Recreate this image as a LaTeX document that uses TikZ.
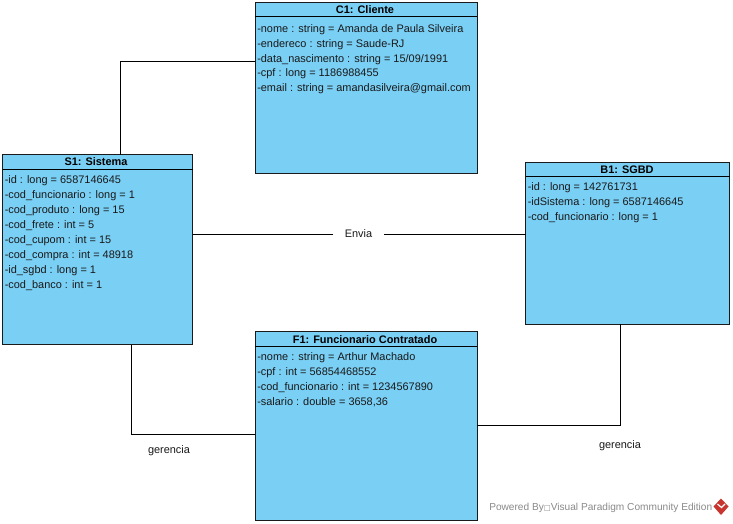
\documentclass[tikz,border=0pt]{standalone}
\usepackage{fontspec}
\setmainfont{Liberation Sans}
\newfontfamily\symfont{DejaVu Sans}
\usetikzlibrary{positioning,calc}
\definecolor{boxblue}{HTML}{7ACFF5}
\definecolor{linedark}{HTML}{1A1A1A}
\definecolor{markgray}{HTML}{8A8A8A}
\definecolor{logored}{HTML}{C8342E}
\tikzset{
  objbox/.style={draw=linedark,fill=boxblue,line width=0.75pt,inner sep=0pt,outer sep=0pt,anchor=north west},
  headtext/.style={font=\fontsize{8.2}{10}\selectfont\bfseries,inner sep=0pt,text=black},
  attrs/.style={font=\fontsize{8.2}{11.2}\selectfont,inner sep=0pt,anchor=north west,align=left,text=black!90},
  conn/.style={draw=black,line width=0.75pt},
  lbl/.style={font=\fontsize{8.2}{10}\selectfont,inner sep=0pt,text=black!90},
  gaplbl/.style={lbl,fill=white,inner xsep=8.5pt,inner ysep=3pt}
}
\begin{document}
\begin{tikzpicture}[x=0.75pt,y=-0.75pt]
\useasboundingbox (0,0) rectangle (733,524);
\fill[white] (0,0) rectangle (733,524);
% boxes
\node[objbox,minimum width=166.5pt,minimum height=128.25pt] (c1) at (255,2.5) {};
\node[objbox,minimum width=142.5pt,minimum height=142.25pt] (s1) at (2.5,155) {};
\node[objbox,minimum width=153pt,minimum height=121.5pt] (b1) at (525.5,162.5) {};
\node[objbox,minimum width=166.5pt,minimum height=141pt] (f1) at (255,332) {};
% header rules
\coordinate (ch) at (0,17);
\coordinate (sh) at (0,169.5);
\coordinate (bh) at (0,177);
\coordinate (fh) at (0,347);
\draw[conn] (c1.west |- ch) -- (c1.east |- ch);
\draw[conn] (s1.west |- sh) -- (s1.east |- sh);
\draw[conn] (b1.west |- bh) -- (b1.east |- bh);
\draw[conn] (f1.west |- fh) -- (f1.east |- fh);
% titles
\node[headtext] (c1t) at (365,9.5) {C1: Cliente};
\node[headtext] (s1t) at (96,162) {S1: Sistema};
\node[headtext] (b1t) at (627,169.5) {B1: SGBD};
\node[headtext] (f1t) at (365,339.5) {F1: Funcionario Contratado};
% attributes
\node[attrs] (c1a) at (257,24) {-nome : string = Amanda de Paula Silveira\\-endereco : string = Saude-RJ\\-data\_nascimento : string = 15/09/1991\\-cpf : long = 1186988455\\-email : string = amandasilveira@gmail.com};
\node[attrs] (s1a) at (4.5,175.5) {-id : long = 6587146645\\-cod\_funcionario : long = 1\\-cod\_produto : long = 15\\-cod\_frete : int = 5\\-cod\_cupom : int = 15\\-cod\_compra : int = 48918\\-id\_sgbd : long = 1\\-cod\_banco : int = 1};
\node[attrs] (b1a) at (527.5,182.5) {-id : long = 142761731\\-idSistema : long = 6587146645\\-cod\_funcionario : long = 1};
\node[attrs] (f1a) at (257,352.5) {-nome : string = Arthur Machado\\-cpf : int = 56854468552\\-cod\_funcionario : int = 1234567890\\-salario : double = 3658,36};
% connectors
\coordinate (k1) at (120.5,62);
\coordinate (k2) at (131.5,435);
\coordinate (k3) at (620,426);
\coordinate (k4) at (300,235);
\draw[conn] (k1 |- s1.north) -- (k1) -- (k1 -| c1.west);
\draw[conn] (k2 |- s1.south) -- (k2) -- (k2 -| f1.west);
\draw[conn] (k3 -| f1.east) -- (k3) -- (k3 |- b1.south);
\draw[conn] (k4 -| s1.east) -- (k4 -| b1.west);
% labels
\node[gaplbl] (envia) at (358.5,234) {Envia};
\node[lbl] (g1) at (169,451) {gerencia};
\node[lbl] (g2) at (620,446) {gerencia};
% footer
\node[font=\fontsize{7.6}{10}\selectfont,text=markgray,inner sep=0pt,anchor=west] (pw) at (489,508) {Powered By{\symfont\fontsize{5.5}{8}\selectfont □}Visual Paradigm Community Edition};
\fill[logored] (721,498.5) -- (728.5,506.5) -- (721,515) -- (713.5,506.5) -- cycle;
\draw[white,line width=0.9pt] (717.5,504) -- (721.5,507.5) -- (725,504);
\end{tikzpicture}
\end{document}
